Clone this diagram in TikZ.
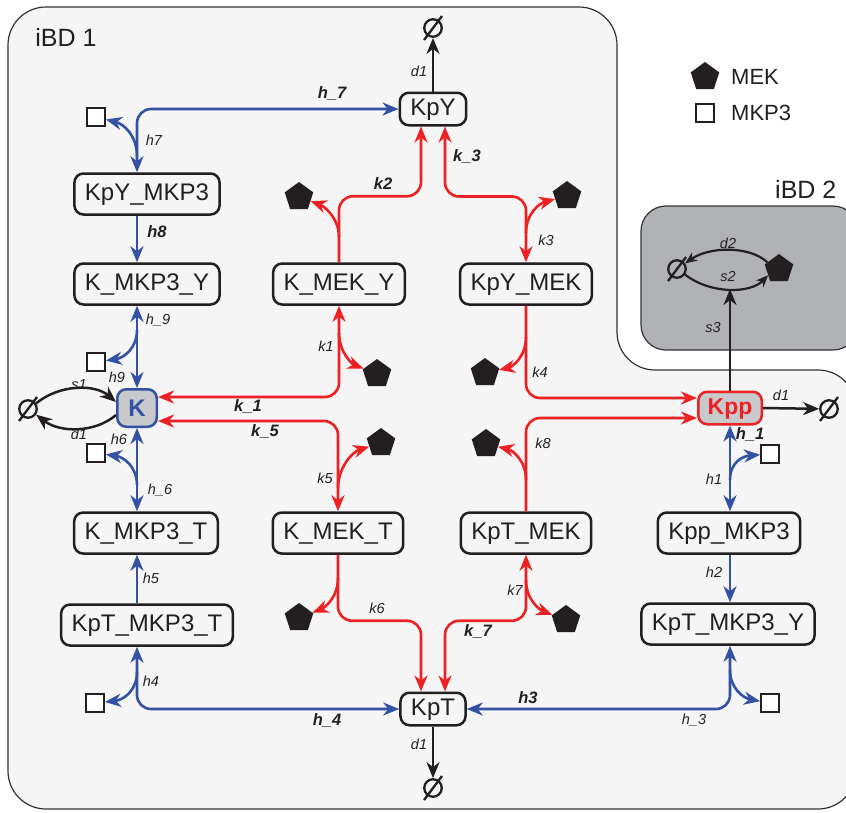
\documentclass[tikz,border=0pt]{standalone}
\usepackage{fontspec}
\setmainfont{Liberation Sans}
\usetikzlibrary{shapes.geometric, arrows.meta}
\definecolor{mblue}{RGB}{52,82,164}
\definecolor{mred}{RGB}{237,32,36}
\definecolor{ink}{RGB}{35,31,32}
\definecolor{paper}{RGB}{245,245,245}
\definecolor{chip}{RGB}{200,201,205}
\definecolor{shade}{RGB}{177,178,181}
\definecolor{rim}{RGB}{51,51,51}
\begin{document}
\begin{tikzpicture}[x=1pt,y=-1pt,
  >={Stealth[length=16pt,width=13pt,inset=5pt]},
  box/.style={draw=ink,line width=2.5pt,rounded corners=9pt,fill=paper,text=ink,
    font=\fontsize{24}{24}\selectfont,minimum height=41pt,inner xsep=10.5pt,inner ysep=0pt,
    text height=17pt,text depth=5pt},
  tinybox/.style={box,minimum height=32.5pt},
  hub/.style={box,fill=chip,inner xsep=0pt,minimum height=32.5pt},
  mek/.style={regular polygon,regular polygon sides=5,fill=ink,minimum size=30pt,inner sep=0pt},
  mkp/.style={draw=ink,line width=2.3pt,fill=white,minimum size=17.5pt,inner sep=0pt},
  nul/.style={circle,draw=ink,line width=2.3pt,minimum size=17.5pt,inner sep=0pt},
  slash/.style={draw=ink,line width=2.3pt},
  hl/.style={draw=mblue,line width=2.6pt,rounded corners=14pt},
  rl/.style={draw=mred,line width=2.6pt,rounded corners=14pt},
  bl/.style={draw=ink,line width=2.5pt},
  lab/.style={text=ink,font=\fontsize{14.5}{14.5}\selectfont\itshape,inner sep=0pt},
  blab/.style={text=ink,font=\fontsize{16.5}{16.5}\selectfont\bfseries\itshape,inner sep=0pt},
  title/.style={text=ink,font=\fontsize{25}{25}\selectfont,inner sep=0pt}]
\useasboundingbox (0,0) rectangle (846,812);
\clip (0,0) rectangle (846,812);
\fill[white] (0,0) rectangle (846,812);
\draw[draw=rim,line width=1.2pt,fill=paper,rounded corners=38pt] (8,400) -- (8,7) -- (617,7) -- (617,370) -- (856,370) -- (856,809) -- (8,809) -- cycle;
\draw[draw=rim,line width=1.2pt,fill=shade,rounded corners=25pt] (641,206) rectangle (858,350);
\node[title] (ibd1) at (66,37) {iBD 1};
\node[title,anchor=west] (ibd2) at (775,189) {iBD 2};

\node[mek] (legmek) at (705,77) {};
\node[anchor=west,text=ink,font=\fontsize{22}{22}\selectfont,inner sep=0pt] (legmektxt) at (731,77) {MEK};
\node[mkp] (legmkp) at (705,113) {};
\node[anchor=west,text=ink,font=\fontsize{22}{22}\selectfont,inner sep=0pt] (legmkptxt) at (731,113) {MKP3};

\node[tinybox] (KpY) at (433,109) {KpY};
\node[box] (KpYMKP3) at (147,194) {KpY\_MKP3};
\node[box] (KMKP3Y) at (147,284) {K\_MKP3\_Y};
\node[box] (KMEKY) at (339,284) {K\_MEK\_Y};
\node[box] (KpYMEK) at (526,284) {KpY\_MEK};
\node[hub,draw=mblue,text=mblue,minimum width=39.5pt,minimum height=37.5pt,text depth=0pt,font=\fontsize{24}{24}\selectfont\bfseries] (K) at (137,408) {K};
\node[hub,draw=mred,text=mred,minimum width=63.5pt,font=\fontsize{23}{23}\selectfont\bfseries] (Kpp) at (730,408) {Kpp};
\node[box] (KMKP3T) at (146,533) {K\_MKP3\_T};
\node[box] (KMEKT) at (338,533) {K\_MEK\_T};
\node[box] (KpTMEK) at (526,533) {KpT\_MEK};
\node[box] (KppMKP3) at (729,533) {Kpp\_MKP3};
\node[box] (KpTMKP3T) at (147,625) {KpT\_MKP3\_T};
\node[box] (KpTMKP3Y) at (728,624) {KpT\_MKP3\_Y};
\node[tinybox] (KpT) at (433,709) {KpT};

\node[nul] (nulY) at (433,28) {};
\draw[slash] ([shift={(-9,12)}]nulY.center) -- ([shift={(9,-12)}]nulY.center);
\node[nul] (nulT) at (433,788) {};
\draw[slash] ([shift={(-9,12)}]nulT.center) -- ([shift={(9,-12)}]nulT.center);
\node[nul] (nulpp) at (829,409) {};
\draw[slash] ([shift={(-9,12)}]nulpp.center) -- ([shift={(9,-12)}]nulpp.center);
\node[nul] (nulK) at (28,409) {};
\draw[slash] ([shift={(-9,12)}]nulK.center) -- ([shift={(9,-12)}]nulK.center);
\node[nul] (nulM) at (677,269) {};
\draw[slash] ([shift={(-9,12)}]nulM.center) -- ([shift={(9,-12)}]nulM.center);
\node[mek] (mekM) at (779,269) {};

\node[mkp] (sq7) at (96,117) {};
\node[mkp] (sq9) at (96,362) {};
\node[mkp] (sq6) at (96,453) {};
\node[mkp] (sq4) at (95,703) {};
\node[mkp] (sq3) at (770,703) {};
\node[mkp] (sq1) at (770,454) {};

\node[mek] (pk2) at (299,197) {};
\node[mek] (pk3) at (567,196) {};
\node[mek] (pk1) at (377,374) {};
\node[mek] (pk4) at (485,373) {};
\node[mek] (pk5) at (381,443) {};
\node[mek] (pk8) at (486,444) {};
\node[mek] (pk6) at (299,618) {};
\node[mek] (pk7) at (566,620) {};

\coordinate (b7) at (137,156);
\coordinate (b9) at (137,330);
\coordinate (b6) at (137,485);
\coordinate (b4) at (137,672);
\coordinate (b3) at (730,670);
\coordinate (b1) at (730,480);
\coordinate (c2) at (339,237);
\coordinate (c1) at (339,333);
\coordinate (c5) at (338,488);
\coordinate (c6) at (338,578);
\coordinate (c7) at (526,580);
\coordinate (c8) at (526,480);
\coordinate (c4) at (526,337);
\coordinate (c3) at (526,233);
\coordinate (s2low) at (730,289);

\draw[hl,<->] (KpY.west) -| (KpYMKP3.north -| K);
\draw[hl,->] (b7) .. controls (137,136) and (124,124) .. (sq7);
\draw[hl,->] (KpYMKP3.south -| K) -- (KMKP3Y.north -| K);
\draw[hl,<->] (KMKP3Y.south -| K) -- (K.north);
\draw[hl,->] (b9) .. controls (137,348) and (124,358) .. (sq9);
\draw[hl,<->] (K.south) -- (KMKP3T.north -| K);
\draw[hl,->] (b6) .. controls (137,467) and (124,457) .. (sq6);
\draw[hl,->] (KpTMKP3T.north -| K) -- (KMKP3T.south -| K);
\draw[hl,<->] (KpTMKP3T.south -| K) |- (KpT.west);
\draw[hl,->] (b4) .. controls (137,690) and (124,700) .. (sq4);
\draw[hl,<->] (KpTMKP3Y.south -| Kpp) |- (KpT.east);
\draw[hl,->] (b3) .. controls (730,688) and (743,698) .. (sq3);
\draw[hl,<->] (Kpp.south) -- (KppMKP3.north -| Kpp);
\draw[hl,->] (b1) .. controls (730,462) and (743,456) .. (sq1);
\draw[hl,->] (KppMKP3.south -| Kpp) -- (KpTMKP3Y.north -| Kpp);

\draw[rl,->] (KMEKY.north) -- ++(0,-66) -| ([xshift=-12pt]KpY.south);
\draw[rl,->] (c2) .. controls (339,218) and (324,206) .. (pk2);
\draw[rl,<->] (KMEKY.south) |- ([yshift=11pt]K.east);
\draw[rl,->] (c1) .. controls (339,352) and (352,364) .. (pk1);
\draw[rl,<->] ([yshift=-13pt]K.east) -| (KMEKT.north);
\draw[rl,->] (c5) .. controls (338,468) and (352,452) .. (pk5);
\draw[rl,->] (KMEKT.south) -- ++(0,66) -| ([xshift=-12pt]KpT.north);
\draw[rl,->] (c6) .. controls (338,598) and (324,608) .. (pk6);
\draw[rl,<->] (KpTMEK.south) -- ++(0,66) -| ([xshift=12pt]KpT.north);
\draw[rl,->] (c7) .. controls (526,600) and (540,610) .. (pk7);
\draw[rl,->] (KpTMEK.north) |- ([yshift=-10pt]Kpp.west);
\draw[rl,->] (c8) .. controls (526,460) and (512,450) .. (pk8);
\draw[rl,->] (KpYMEK.south) |- ([yshift=10pt]Kpp.west);
\draw[rl,->] (c4) .. controls (526,357) and (512,367) .. (pk4);
\draw[rl,<->] ([xshift=12pt]KpY.south) -- ++(0,70) -| (KpYMEK.north);
\draw[rl,->] (c3) .. controls (526,213) and (540,203) .. (pk3);

\draw[bl,->] (KpY.north) -- (nulY);
\draw[bl,->] (KpT.south) -- (nulT);
\draw[bl,->] (Kpp.east) -- (nulpp);
\draw[bl,->] (Kpp.north) -- (s2low);
\draw[bl,->] (nulK.35) .. controls (60,384) and (95,384) .. ([yshift=6pt]K.west);
\draw[bl,->] ([yshift=-7pt]K.west) .. controls (95,433) and (60,433) .. (nulK.-35);
\draw[bl,line width=2.2pt,-{Stealth[length=12pt,width=10pt,inset=4pt]}] (mekM.150) .. controls (750,246) and (710,246) .. (nulM.35);
\draw[bl,line width=2.2pt,-{Stealth[length=12pt,width=10pt,inset=4pt]}] (nulM.-35) .. controls (710,294) and (750,294) .. (mekM.-150);

\node[blab] (lhh7) at (332,94) {h\_7};
\node[lab] (lh7) at (154,140) {h7};
\node[blab] (lh8) at (157,232) {h8};
\node[lab] (lhh9) at (158,320) {h\_9};
\node[lab] (lh9) at (117,377) {h9};
\node[lab] (lh6) at (119,439) {h6};
\node[lab] (lhh6) at (160,490) {h\_6};
\node[lab] (lh5) at (151,578) {h5};
\node[lab] (lh4) at (151,681) {h4};
\node[blab] (lhh4) at (327,721) {h\_4};
\node[blab] (lh3) at (528,698) {h3};
\node[lab] (lhh3) at (694,720) {h\_3};
\node[blab] (lhh1) at (750,435) {h\_1};
\node[lab] (lh1) at (714,479) {h1};
\node[lab] (lh2) at (714,572) {h2};
\node[blab] (lk2) at (383,184) {k2};
\node[blab] (lkk3) at (467,157) {k\_3};
\node[lab] (lk3) at (546,240) {k3};
\node[lab] (lk1) at (326,346) {k1};
\node[blab] (lkk1) at (248,407) {k\_1};
\node[blab] (lkk5) at (265,432) {k\_5};
\node[lab] (lk5) at (325,478) {k5};
\node[lab] (lk4) at (540,372) {k4};
\node[lab] (lk8) at (543,443) {k8};
\node[lab] (lk6) at (377,608) {k6};
\node[lab] (lk7) at (515,590) {k7};
\node[blab] (lkk7) at (478,632) {k\_7};
\node[lab] (ldY) at (419,71) {d1};
\node[lab] (ldT) at (419,744) {d1};
\node[lab] (ldpp) at (781,395) {d1};
\node[lab] (ldK) at (79,434) {d1};
\node[lab] (lsK) at (79,385) {s1};
\node[lab] (ls3) at (713,328) {s3};
\node[lab] (ld2) at (728,243) {d2};
\node[lab] (ls2) at (728,277) {s2};
\end{tikzpicture}
\end{document}
